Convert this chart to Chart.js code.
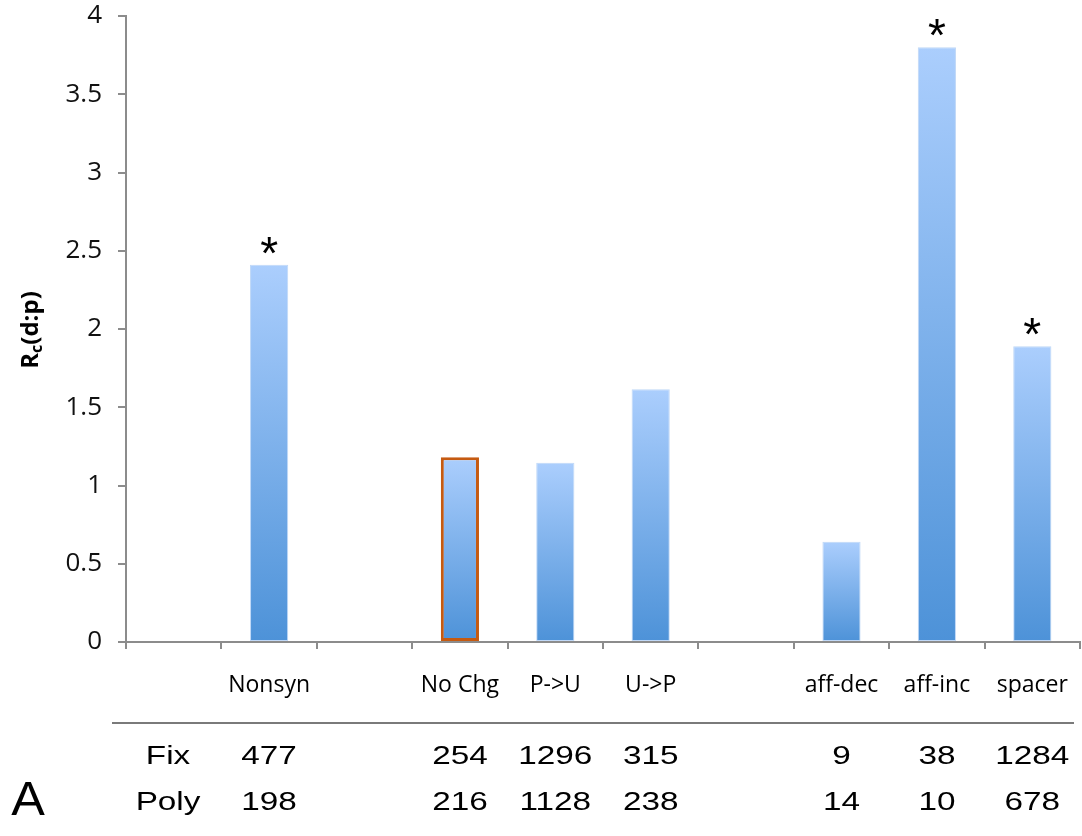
<!DOCTYPE html>
<html>
<head>
<meta charset="utf-8">
<script src="https://cdn.jsdelivr.net/npm/chart.js@4/dist/chart.umd.min.js"></script>
<style>
  html, body { margin: 0; padding: 0; background: #ffffff; }
  canvas { display: block; }
</style>
</head>
<body>
<canvas id="rc" width="1082" height="836"></canvas>
<script>
// Site classes (blank slots separate the groups)
const categories = ['', 'Nonsyn', '', 'No Chg', 'P->U', 'U->P', '', 'aff-dec', 'aff-inc', 'spacer'];
// Rc(d:p) ratio per class
const ratioValues = [null, 2.41, null, 1.18, 1.145, 1.615, null, 0.64, 3.80, 1.89];
// classes marked as significant
const significant = [false, true, false, false, false, false, false, false, true, true];
// fixed differences and polymorphisms counted per class
const fixCounts = [null, 477, null, 254, 1296, 315, null, 9, 38, 1284];
const polyCounts = [null, 198, null, 216, 1128, 238, null, 14, 10, 678];
const yTickLabels = ['0', '0.5', '1', '1.5', '2', '2.5', '3', '3.5', '4'];

const referenceClass = 'No Chg';
const axisGrey = '#8c8c8c';

function barFill(ctx) {
  const chart = ctx.chart;
  const y = chart.scales && chart.scales.y;
  const v = ratioValues[ctx.dataIndex];
  if (!y || v == null) return '#6ea8e6';
  const top = y.getPixelForValue(v);
  const base = y.getPixelForValue(0);
  if (!isFinite(top) || !isFinite(base) || top === base) return '#6ea8e6';
  const g = chart.ctx.createLinearGradient(0, top, 0, base);
  g.addColorStop(0, '#abcefd');
  g.addColorStop(1, '#4d92d8');
  return g;
}

const annotations = {
  id: 'annotations',
  afterDraw(chart) {
    const { ctx, scales } = chart;
    const x = scales.x, y = scales.y;

    // axis title: R with subscript c, rotated
    ctx.save();
    ctx.translate(31, 330);
    ctx.rotate(-Math.PI / 2);
    ctx.fillStyle = '#000';
    ctx.textBaseline = 'middle';
    const big = 'bold 24px "Open Sans"';
    const small = 'bold 16px "Open Sans"';
    ctx.font = big;
    const wR = ctx.measureText('R').width;
    const wRest = ctx.measureText('(d:p)').width;
    ctx.font = small;
    const wc = ctx.measureText('c').width;
    let cx = -(wR + wc + wRest) / 2;
    ctx.textAlign = 'left';
    ctx.font = big;
    ctx.fillText('R', cx, 0);
    cx += wR;
    ctx.font = small;
    ctx.fillText('c', cx, 6);
    cx += wc;
    ctx.font = big;
    ctx.fillText('(d:p)', cx, 0);
    ctx.restore();

    // significance stars
    ctx.save();
    ctx.fillStyle = '#000';
    ctx.font = '46px "Liberation Sans"';
    ctx.textAlign = 'center';
    ctx.textBaseline = 'alphabetic';
    significant.forEach((s, i) => {
      if (!s) return;
      const px = x.getPixelForValue(i);
      const py = y.getPixelForValue(ratioValues[i]);
      ctx.fillText('*', px, py + 4);
    });
    ctx.restore();

    // count table under the axis
    ctx.save();
    ctx.strokeStyle = '#7a7a7a';
    ctx.lineWidth = 2;
    ctx.beginPath();
    ctx.moveTo(112, 723);
    ctx.lineTo(1074, 723);
    ctx.stroke();

    ctx.fillStyle = '#000';
    ctx.font = '26px "Liberation Sans"';
    ctx.textBaseline = 'middle';
    ctx.textAlign = 'center';
    const stretch = 1.28;
    const cell = (text, cxp, cyp) => {
      ctx.save();
      ctx.translate(cxp, cyp);
      ctx.scale(stretch, 1);
      ctx.fillText(text, 0, 0);
      ctx.restore();
    };
    cell('Fix', 168, 757);
    cell('Poly', 168, 803);
    fixCounts.forEach((n, i) => {
      if (n == null) return;
      cell(String(n), x.getPixelForValue(i), 757);
    });
    polyCounts.forEach((n, i) => {
      if (n == null) return;
      cell(String(n), x.getPixelForValue(i), 803);
    });

    ctx.font = '48px "Liberation Sans"';
    ctx.save();
    ctx.translate(28, 802);
    ctx.scale(1.05, 1);
    ctx.fillText('A', 0, 0);
    ctx.restore();
    ctx.restore();
  }
};

new Chart(document.getElementById('rc'), {
  type: 'bar',
  data: {
    labels: categories,
    datasets: [{
      data: ratioValues,
      backgroundColor: barFill,
      borderColor: (c) => categories[c.dataIndex] === referenceClass ? '#c55a11' : 'rgba(185,212,246,0.9)',
      borderWidth: (c) => categories[c.dataIndex] === referenceClass ? 3 : 1,
      borderSkipped: false,
      categoryPercentage: 1.0,
      barPercentage: 0.4
    }]
  },
  options: {
    responsive: false,
    animation: false,
    devicePixelRatio: 1,
    layout: { padding: { left: 0, right: 2, top: 16, bottom: 0 } },
    plugins: {
      legend: { display: false },
      tooltip: { enabled: false }
    },
    scales: {
      x: {
        grid: {
          display: true,
          offset: true,
          drawOnChartArea: false,
          drawTicks: true,
          tickLength: 7,
          tickColor: axisGrey,
          lineWidth: 2
        },
        border: { display: true, color: axisGrey, width: 2 },
        ticks: {
          autoSkip: false,
          maxRotation: 0,
          padding: 23,
          color: '#000',
          font: { family: '"Open Sans"', size: 23 }
        },
        afterFit(scale) {
          scale.height = 194;
          scale.paddingLeft = 0;
          scale.paddingRight = 0;
        }
      },
      y: {
        min: 0,
        max: 4,
        grid: {
          display: true,
          drawOnChartArea: false,
          drawTicks: true,
          tickLength: 8,
          tickColor: axisGrey,
          lineWidth: 2
        },
        border: { display: true, color: axisGrey, width: 2 },
        ticks: {
          stepSize: 0.5,
          padding: 16,
          color: '#111',
          font: { family: '"Open Sans"', size: 26 },
          callback: (v, i) => yTickLabels[i]
        },
        afterFit(scale) {
          scale.width = 126;
          scale.paddingTop = 0;
          scale.paddingBottom = 0;
        }
      }
    }
  },
  plugins: [annotations]
});
</script>
</body>
</html>
